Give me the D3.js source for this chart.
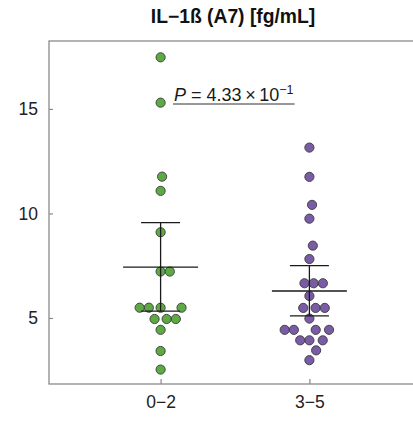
<!DOCTYPE html>
<html>
<head>
<meta charset="utf-8">
<script src="https://cdn.jsdelivr.net/npm/d3@7"></script>
<style>
  html, body { margin: 0; padding: 0; background: #fff; }
  svg { display: block; font-family: "Liberation Sans", Arial, Helvetica, sans-serif; }
</style>
</head>
<body>
<svg id="chart" width="413" height="423"></svg>
<script>
// ---------- data ----------
const title = "IL\u22121\u00DF (A7) [fg/mL]";
const groups = ["0\u22122", "3\u22125"];
const group02 = [17.47, 15.30, 11.76, 11.08, 9.10, 7.22, 7.22, 5.49, 5.49, 5.49, 5.49, 4.95, 4.95, 4.95, 4.43, 3.42, 2.53];
const group35 = [13.15, 11.75, 10.41, 9.75, 8.46, 7.82, 6.66, 6.66, 6.66, 6.05, 5.48, 5.48, 5.48, 4.97, 4.43, 4.43, 4.43, 4.43, 3.93, 3.93, 3.93, 3.45, 2.98];
const groupMeans = [7.43, 6.29];
const ciLower = [5.33, 5.10];
const ciUpper = [9.56, 7.50];
const yTicks = [5, 10, 15];
const pMantissa = "4.33";
const pExponent = "\u22121";
const colors = ["#5DAA45", "#7A5BA6"];

// ---------- layout ----------
const svg = d3.select("#chart");
const plotLeft = 49, plotRight = 421, plotTop = 41, plotBottom = 384;

const y = d3.scaleLinear().domain([1.84, 18.25]).range([plotBottom, plotTop]);
const x = d3.scalePoint().domain(groups).range([plotLeft, plotRight]).padding(0.75);

const frameColor = "#8a8a8a";

// frame
svg.append("rect")
  .attr("x", plotLeft).attr("y", plotTop)
  .attr("width", plotRight - plotLeft).attr("height", plotBottom - plotTop)
  .attr("fill", "none").attr("stroke", frameColor).attr("stroke-width", 1.3);

// y axis
const yAxis = svg.append("g").attr("transform", `translate(${plotLeft},0)`)
  .call(d3.axisLeft(y).tickValues(yTicks).tickSizeInner(-4).tickSizeOuter(0).tickPadding(11).tickFormat(d3.format("d")));
yAxis.select(".domain").remove();
yAxis.selectAll(".tick line").attr("stroke", frameColor).attr("stroke-width", 1.2);
yAxis.selectAll(".tick text").attr("fill", "#222").style("font-size", "17.5px")
  .style("font-family", "'Liberation Sans', Arial, sans-serif");

// x axis
const xAxis = svg.append("g").attr("transform", `translate(0,${plotBottom})`)
  .call(d3.axisBottom(x).tickSizeInner(-5).tickSizeOuter(0).tickPadding(12));
xAxis.select(".domain").remove();
xAxis.selectAll(".tick line").attr("stroke", frameColor).attr("stroke-width", 1.2);
xAxis.selectAll(".tick text").attr("fill", "#222").style("font-size", "17.5px")
  .style("font-family", "'Liberation Sans', Arial, sans-serif");

// title
svg.append("text")
  .attr("x", (plotLeft + plotRight) / 2 - 2).attr("y", 23)
  .attr("text-anchor", "middle")
  .style("font-size", "19.3px").style("font-weight", "bold").attr("fill", "#111")
  .text(title);

// ---------- beeswarm (swarm, ascending priority) ----------
const XS = 9.2, YS = 14.4;
function swarm(vals) {
  const pts = vals.map(v => ({ v, y: y(v) })).sort((a, b) => a.v - b.v);
  const placed = [];
  pts.forEach(p => {
    const near = placed.filter(q => Math.abs(q.y - p.y) < YS);
    const cands = [0];
    near.forEach(q => {
      const dy = (q.y - p.y) / YS;
      const dx = XS * Math.sqrt(1 - dy * dy);
      cands.push(q.x + dx, q.x - dx);
    });
    const ok = cands.filter(c => near.every(q => {
      const dx = (c - q.x) / XS, dy = (p.y - q.y) / YS;
      return dx * dx + dy * dy >= 1 - 1e-6;
    }));
    ok.sort((a, b) => {
      const d = Math.abs(a) - Math.abs(b);
      if (Math.abs(d) > 1e-6) return d;
      return b - a;
    });
    p.x = ok[0];
    placed.push(p);
  });
  return placed;
}

const series = [group02, group35];
series.forEach((vals, gi) => {
  const cx = x(groups[gi]);
  svg.append("g").selectAll("circle")
    .data(swarm(vals))
    .join("circle")
    .attr("cx", d => cx + d.x)
    .attr("cy", d => d.y)
    .attr("r", 4.6)
    .attr("fill", colors[gi])
    .attr("stroke", "#3a3a3a")
    .attr("stroke-width", 0.9);
});

// ---------- mean and CI bars ----------
const barG = svg.append("g").attr("stroke", "#1a1a1a").attr("stroke-width", 1.3);
groups.forEach((g, i) => {
  const cx = x(g);
  barG.append("line").attr("x1", cx).attr("x2", cx).attr("y1", y(ciLower[i])).attr("y2", y(ciUpper[i]));
  barG.append("line").attr("x1", cx - 19.5).attr("x2", cx + 19.5).attr("y1", y(ciUpper[i])).attr("y2", y(ciUpper[i]));
  barG.append("line").attr("x1", cx - 19.5).attr("x2", cx + 19.5).attr("y1", y(ciLower[i])).attr("y2", y(ciLower[i]));
  barG.append("line").attr("x1", cx - 37.5).attr("x2", cx + 37.5).attr("y1", y(groupMeans[i])).attr("y2", y(groupMeans[i]));
});

// ---------- P value annotation ----------
const pG = svg.append("g").attr("fill", "#1a1a1a");
const pt = pG.append("text").attr("x", 174).attr("y", 101).style("font-size", "18px");
pt.append("tspan").style("font-style", "italic").text("P");
pt.append("tspan").text(" = " + pMantissa + "\u2009\u00D7\u200910");
pt.append("tspan").attr("dy", -7).style("font-size", "12.5px").text(pExponent);
const bb = pt.node().getBBox();
pG.append("line")
  .attr("x1", 173).attr("x2", bb.x + bb.width + 1)
  .attr("y1", 104).attr("y2", 104)
  .attr("stroke", "#333").attr("stroke-width", 1.1);
</script>
</body>
</html>
